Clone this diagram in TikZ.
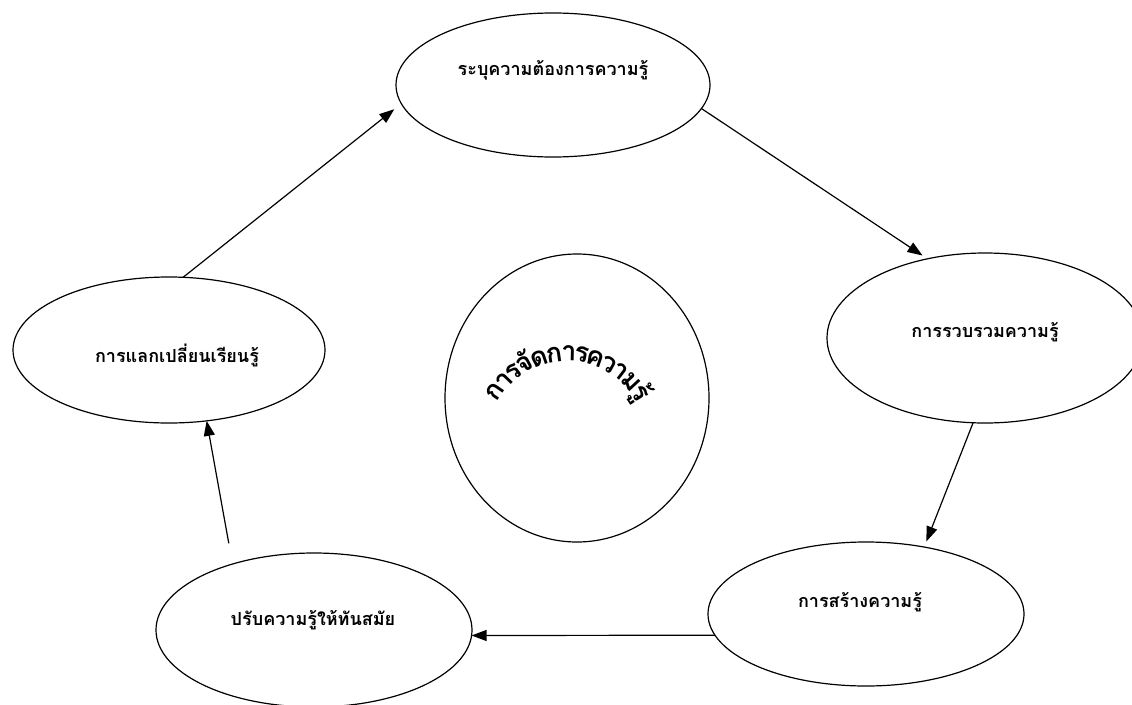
\documentclass[tikz,border=0pt]{standalone}
\usepackage{fontspec}
\newfontfamily\thai[Script=Thai]{Loma}
\usetikzlibrary{arrows.meta,calc,shapes.geometric}
\newcommand\arcfont{\thai\bfseries\fontsize{27}{30}\selectfont}
\begin{document}
\begin{tikzpicture}[x=1pt,y=1pt,
  oval/.style={ellipse, draw, line width=1.2pt, inner sep=0pt, outer sep=0pt},
  lbl/.style={font=\thai\bfseries\fontsize{18}{21}\selectfont, inner sep=0pt},
  arcch/.style={inner sep=0pt, anchor=base, font=\arcfont},
  arr/.style={line width=1.2pt, -{Triangle[length=15pt,width=11pt]}}]
\useasboundingbox[fill=white] (0,0) rectangle (1132,-704);
% ovals
\node[oval, minimum width=314pt, minimum height=144pt] (top) at (553,-85) {};
\node[oval, minimum width=316pt, minimum height=170pt] (right) at (985,-338) {};
\node[oval, minimum width=316pt, minimum height=144pt] (br) at (866,-614) {};
\node[oval, minimum width=316pt, minimum height=154pt] (bl) at (314,-630) {};
\node[oval, minimum width=312pt, minimum height=146pt] (left) at (169,-350) {};
\node[oval, minimum width=264pt, minimum height=288pt] (center) at (577,-398) {};
% labels
\node[lbl] (ttop) at (553,-70) {ระบุความต้องการความรู้};
\node[lbl] (tright) at (985,-332) {การรวบรวมความรู้};
\node[lbl] (tbr) at (860,-602) {การสร้างความรู้};
\node[lbl] (tbl) at (313,-620) {ปรับความรู้ให้ทันสมัย};
\node[lbl] (tleft) at (177,-355) {การแลกเปลี่ยนเรียนรู้};
% arched title: one glyph cluster per node along an arc (radius 80, length 170)
\coordinate (arcc) at (567,-441);
\gdef\arccum{0}
\foreach \ch/\rw [count=\i] in {ก/60,า/50,ร/48,จั/55,ด/60,ก/60,า/50,ร/48,ค/60,ว/50,า/50,ม/62,รู้/48}{%
  \pgfmathsetmacro\cwd{\rw*170/701}%
  \pgfmathsetmacro\ang{90+(85-\arccum-\cwd/2)/80*180/pi}%
  \node[arcch, rotate=\ang-90] (arc\i) at ($(arcc)+(\ang:80)$) {\ch};
  \pgfmathsetmacro\tmp{\arccum+\cwd}%
  \xdef\arccum{\tmp}}
% connectors
\draw[arr, shorten >=6pt] (top.-9.2) -- (right.126.9);
\draw[arr, shorten >=6pt] (right.-98) -- (br.49.4);
\draw[arr] (br.188.7) -- (bl.-2.5);
\draw[arr, shorten <=21pt] (bl.141.3) -- (left.-62.5);
\draw[arr, shorten >=9pt] (left.79.9) -- (top.187.7);
\end{tikzpicture}
\end{document}
